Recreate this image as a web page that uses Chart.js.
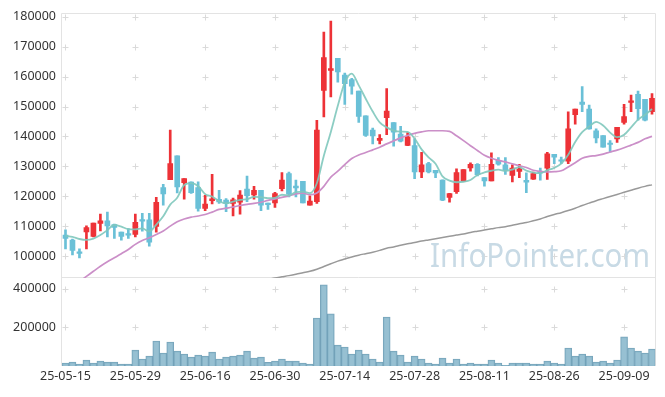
<!DOCTYPE html>
<html>
<head>
<meta charset="utf-8">
<script src="https://cdn.jsdelivr.net/npm/chart.js@4.4.1/dist/chart.umd.min.js"></script>
<style>
  html, body { margin: 0; padding: 0; background: #fff; }
  #wrap { width: 665px; height: 397px; }
</style>
</head>
<body>
<div id="wrap"><canvas id="chart" width="665" height="397"></canvas></div>
<script>
// trading days (yy-mm-dd)
const dates = [
  '25-05-15','25-05-16','25-05-19','25-05-20','25-05-21','25-05-22','25-05-23','25-05-26','25-05-27','25-05-28',
  '25-05-29','25-05-30','25-06-02','25-06-04','25-06-05','25-06-09','25-06-10','25-06-11','25-06-12','25-06-13',
  '25-06-16','25-06-17','25-06-18','25-06-19','25-06-20','25-06-23','25-06-24','25-06-25','25-06-26','25-06-27',
  '25-06-30','25-07-01','25-07-02','25-07-03','25-07-04','25-07-07','25-07-08','25-07-09','25-07-10','25-07-11',
  '25-07-14','25-07-15','25-07-16','25-07-17','25-07-18','25-07-21','25-07-22','25-07-23','25-07-24','25-07-25',
  '25-07-28','25-07-29','25-07-30','25-07-31','25-08-01','25-08-04','25-08-05','25-08-06','25-08-07','25-08-08',
  '25-08-11','25-08-12','25-08-13','25-08-14','25-08-18','25-08-19','25-08-20','25-08-21','25-08-22','25-08-25',
  '25-08-26','25-08-27','25-08-28','25-08-29','25-09-01','25-09-02','25-09-03','25-09-04','25-09-05','25-09-08',
  '25-09-09','25-09-10','25-09-11','25-09-12','25-09-15'
];
const tickDates = ['25-05-15','25-05-29','25-06-16','25-06-30','25-07-14','25-07-28','25-08-11','25-08-26','25-09-09'];
const priceTicks = [100000, 110000, 120000, 130000, 140000, 150000, 160000, 170000, 180000];
const volumeTicks = [200000, 400000];

const openP = [
  107000,105300,101300,108100,106600,110900,111800,110500,108000,107500,
  107200,112100,112100,109900,122900,125500,133500,124500,124700,122900,
  115900,118500,119000,118700,117600,118000,122400,120400,122000,117700,
  117800,122500,127600,123400,125000,117000,118200,155400,162100,166100,
  160500,159000,155200,146900,142100,138700,146300,144600,140800,137000,
  136900,128100,130900,128700,125400,119600,121500,125000,129500,130700,
  126200,125100,132000,130500,127000,128300,125300,125700,128300,129400,
  134000,132200,131700,147300,151500,149100,141900,140300,137800,139200,
  144700,151400,154100,152400,148300
];
const highP = [
  108800,105700,102400,110100,111000,114000,114700,110700,108000,109200,
  114000,114300,114300,119600,124000,142100,133500,125900,124800,124800,
  120300,127300,122000,119200,119400,121900,126700,123300,122000,117700,
  121300,127900,128100,125400,125000,120100,145400,174900,178600,166100,
  161200,159400,155200,146900,142800,140600,156000,144600,143400,141300,
  139200,134700,131300,128700,125500,121000,129200,128900,131200,130900,
  126200,134500,132900,132900,130500,130700,127800,128100,129400,134700,
  134000,133100,148200,149100,156700,150500,142500,140300,138600,143000,
  150700,153800,155200,152400,154300
];
const lowP = [
  102400,100400,99400,102400,106400,108400,106400,105900,105300,105900,
  106400,108300,103300,108000,117000,125500,121100,119000,120900,115000,
  115200,117400,117600,114800,113400,114000,118200,119000,115200,115600,
  116300,121800,119800,119800,117800,117000,117600,146500,153200,158100,
  150700,154100,144700,140000,137500,137500,140600,136700,138200,136900,
  125900,126200,127800,126200,118500,118000,120900,125000,128400,126800,
  123400,125100,130400,127300,124800,126200,121200,125600,125400,125600,
  130900,130900,130900,144100,148300,142400,137800,136400,134700,138000,
  144100,148300,145400,145200,147400
];
const closeP = [
  105900,101900,100900,109500,111000,111800,110100,109600,106600,107000,
  111300,111700,104600,118000,120800,130900,123100,125900,121200,115900,
  117400,119100,118100,117600,118800,120400,120200,122000,117000,117200,
  120900,125400,120700,122800,117800,118400,142100,166400,162700,161600,
  157600,156800,146700,140300,140200,139400,148500,141400,138400,139900,
  128100,130500,128100,127800,118700,120900,127900,128900,130700,127200,
  125100,130700,130700,128700,129400,129200,124700,127600,127800,134200,
  133100,131700,142500,149100,150700,142500,139500,136400,137300,143000,
  146600,151800,149300,145400,152700
];
const volume = [
  15000,20000,10000,30000,15000,25000,20000,20000,10000,10000,
  82000,36000,51000,129000,67000,124000,77000,62000,46000,56000,
  51000,72000,36000,46000,51000,56000,77000,41000,46000,19000,
  25000,36000,25000,25000,15000,10000,248000,419000,269000,108000,
  98000,62000,82000,62000,36000,20000,253000,77000,56000,20000,
  51000,36000,15000,10000,41000,15000,36000,10000,15000,10000,
  10000,31000,15000,4000,15000,15000,15000,10000,10000,25000,
  15000,10000,93000,51000,62000,51000,20000,25000,15000,31000,
  150000,93000,77000,67000,88000
];
const ma5 = [
  106800,106400,105700,105400,105840,107020,108660,110400,109820,109020,
  108920,109240,108240,110520,113280,117200,119480,123740,124380,123400,
  120700,119900,118340,117620,118200,118800,119020,119800,119680,119360,
  119460,120500,120240,121400,121520,121020,124360,133500,141480,150240,
  158080,161020,157080,152600,148320,144680,143020,141960,141580,141520,
  139260,135660,133000,130880,126640,125200,124680,124840,125420,127120,
  127960,128520,128880,128480,128920,129740,128540,127920,127740,128700,
  129480,130880,133860,138120,141420,143300,144860,143640,141280,139740,
  140560,143020,145600,147220,149160
];
const ma20 = [
  88100,89800,91500,93200,94900,96600,98100,99400,100800,102200,
  103900,105200,106100,107200,108400,110000,111500,112400,113000,113400,
  113900,114700,115600,116000,116400,116900,117300,117600,118000,118600,
  119100,119600,120100,120800,121000,120500,121100,123300,126400,128400,
  130600,132600,133800,134600,135500,136400,137500,138500,139500,140300,
  141000,141500,141900,141900,141900,141700,140200,138600,136900,135300,
  133700,132700,132000,131500,130800,130200,129600,128700,128300,128100,
  128200,128500,129800,131200,132700,133300,133600,134100,134800,135400,
  136200,137100,138000,139200,140000
];
const ma60 = [
  null,null,null,null,null,null,null,null,null,null,
  null,null,null,null,null,null,null,null,null,null,
  null,null,null,null,null,null,null,null,null,92200,
  92650,93050,93450,93900,94400,94900,95600,96500,97400,98300,
  99000,99700,100300,100800,101300,101900,102600,103000,103600,104100,
  104500,105000,105400,105800,106200,106600,107000,107400,107900,108300,
  108700,109100,109500,109800,110300,110800,111200,111800,112400,113200,
  113900,114500,115200,116000,116900,117700,118500,119200,119900,120600,
  121300,122000,122700,123300,123800
];

const RED = 'rgb(237,50,55)';
const BLUE = 'rgb(106,192,215)';
const candleColors = closeP.map((c, i) => c >= openP[i] ? RED : BLUE);

Chart.defaults.font.family = '"Noto Sans", sans-serif';
Chart.defaults.font.size = 12.5;
Chart.defaults.color = '#333';

// keep each dataset inside its own panel
const panelClip = {
  id: 'panelClip',
  beforeDatasetDraw(chart, args) {
    const ys = args.meta.yScale, a = chart.chartArea, ctx = chart.ctx;
    ctx.save();
    ctx.beginPath();
    ctx.rect(a.left, ys.top, a.right - a.left, ys.bottom - ys.top);
    ctx.clip();
  },
  afterDatasetDraw(chart) { chart.ctx.restore(); }
};

// panel borders, "+" grid marks, watermark
const decor = {
  id: 'decor',
  beforeDatasetsDraw(chart) {
    const ctx = chart.ctx, a = chart.chartArea;
    const xs = chart.scales.x, yp = chart.scales.y, yv = chart.scales.yv;
    const L = Math.round(a.left) - 0.5, R = Math.round(a.right) - 0.5;
    const T = Math.round(yp.top) - 0.5, M = Math.round(yp.bottom) - 0.5, B = Math.round(yv.bottom) - 0.5;
    ctx.save();
    ctx.strokeStyle = '#e3e3e3';
    ctx.lineWidth = 1;
    ctx.beginPath();
    ctx.moveTo(L, B); ctx.lineTo(L, T); ctx.lineTo(R, T); ctx.lineTo(R, B); ctx.lineTo(L, B);
    ctx.moveTo(L, M); ctx.lineTo(R, M);
    ctx.stroke();

    ctx.strokeStyle = '#dadada';
    const xpos = dates.map((d, i) => tickDates.includes(d) ? xs.getPixelForValue(i) : null).filter(v => v !== null);
    const ypos = priceTicks.map(v => yp.getPixelForValue(v)).concat(volumeTicks.map(v => yv.getPixelForValue(v)));
    ctx.beginPath();
    xpos.forEach(x => {
      ypos.forEach(y => {
        const px = Math.round(x) + 0.5, py = Math.round(y) + 0.5;
        ctx.moveTo(px - 3, py); ctx.lineTo(px + 3, py);
        ctx.moveTo(px, py - 3); ctx.lineTo(px, py + 3);
      });
    });
    ctx.stroke();

    ctx.fillStyle = '#c8dae5';
    ctx.font = '33px "Noto Sans", sans-serif';
    ctx.textAlign = 'left';
    ctx.textBaseline = 'alphabetic';
    ctx.fillText('InfoPointer.com', 430, 267, 220);
    ctx.restore();
  }
};

new Chart(document.getElementById('chart'), {
  data: {
    labels: dates,
    datasets: [
      {
        type: 'line', label: 'MA5', data: ma5, yAxisID: 'y', order: 1,
        borderColor: 'rgba(128,200,188,0.9)', borderWidth: 1.8, pointRadius: 0, cubicInterpolationMode: 'monotone'
      },
      {
        type: 'line', label: 'MA20', data: ma20, yAxisID: 'y', order: 1,
        borderColor: '#cb8fc8', borderWidth: 1.7, pointRadius: 0, cubicInterpolationMode: 'monotone'
      },
      {
        type: 'line', label: 'MA60', data: ma60, yAxisID: 'y', order: 1,
        borderColor: '#999999', borderWidth: 1.5, pointRadius: 0, cubicInterpolationMode: 'monotone'
      },
      {
        type: 'bar', label: 'body', data: openP.map((o, i) => [o, closeP[i]]), yAxisID: 'y', order: 2,
        backgroundColor: candleColors, barThickness: 5, minBarLength: 1.5, grouped: false
      },
      {
        type: 'bar', label: 'wick', data: lowP.map((l, i) => [l, highP[i]]), yAxisID: 'y', order: 3,
        backgroundColor: candleColors, barThickness: 2, grouped: false
      },
      {
        type: 'bar', label: 'volume', data: volume, yAxisID: 'yv', order: 4,
        backgroundColor: 'rgba(140,185,205,0.9)', borderColor: 'rgba(105,155,180,0.9)', borderWidth: 1,
        barPercentage: 1, categoryPercentage: 1, grouped: false
      }
    ]
  },
  options: {
    responsive: false,
    animation: false,
    devicePixelRatio: 1,
    layout: { padding: { top: 12, right: 9.5, bottom: 10, left: 12 } },
    plugins: { legend: { display: false }, tooltip: { enabled: false } },
    scales: {
      x: {
        type: 'category',
        offset: true,
        grid: { display: false, drawTicks: false },
        border: { display: false },
        ticks: {
          autoSkip: false, maxRotation: 0, minRotation: 0, padding: 3,
          callback: (v, i) => tickDates.includes(dates[i]) ? dates[i] : ''
        }
      },
      yv: {
        position: 'left', stack: 'main', stackWeight: 1,
        min: 0, max: 455000,
        afterFit: s => { s.width = 50; },
        afterBuildTicks: s => { s.ticks = volumeTicks.map(v => ({ value: v })); },
        grid: { display: false, drawTicks: false },
        border: { display: false },
        ticks: { autoSkip: false, padding: 6, callback: v => String(v) }
      },
      y: {
        position: 'left', stack: 'main', stackWeight: 3,
        min: 92700, max: 181100,
        afterFit: s => { s.width = 50; },
        afterBuildTicks: s => { s.ticks = priceTicks.map(v => ({ value: v })); },
        grid: { display: false, drawTicks: false },
        border: { display: false },
        ticks: { autoSkip: false, padding: 6, callback: v => String(v) }
      }
    }
  },
  plugins: [panelClip, decor]
});
</script>
</body>
</html>
